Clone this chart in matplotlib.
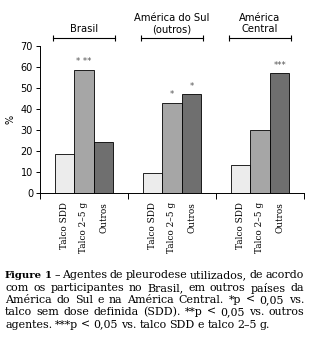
import matplotlib
matplotlib.use('Agg')
import matplotlib.pyplot as plt
import numpy as np

# data (% of participants)
groups = ['Brasil', 'América do Sul\n(outros)', 'América\nCentral']
agents = ['Talco SDD', 'Talco 2–5 g', 'Outros']
talco_sdd = [18.7, 9.5, 13.5]
talco_25 = [58.6, 42.9, 30.0]
outros = [24.3, 47.1, 57.1]
stars_25 = ['* **', '*', '']
stars_outros = ['', '*', '***']
colors = ['#ececec', '#a6a6a6', '#6f6f6f']

caption = [
    'Figure 1 – Agentes de pleurodese utilizados, de acordo',
    'com os participantes no Brasil, em outros países da',
    'América do Sul e na América Central. *p < 0,05 vs.',
    'talco sem dose definida (SDD). **p < 0,05 vs. outros',
    'agentes. ***p < 0,05 vs. talco SDD e talco 2–5 g.',
]

W, H = 322, 358
fig = plt.figure(figsize=(W / 100, H / 100), dpi=100)
ax = fig.add_axes([40 / W, 1 - 193.3 / H, 264 / W, 147 / H])

w = 0.223
centers = np.arange(len(groups)) + 0.5
series = [talco_sdd, talco_25, outros]
for i, vals in enumerate(series):
    ax.bar(centers + (i - 1) * w, vals, w, color=colors[i],
           edgecolor='black', linewidth=0.6)

for g in range(len(groups)):
    for i, marks in [(1, stars_25), (2, stars_outros)]:
        if marks[g]:
            ax.text(centers[g] + (i - 1) * w, series[i][g] + 1.8, marks[g],
                    ha='center', va='bottom', fontsize=6, color='#555555')
    # group header with bracket
    ax.plot([g + 0.15, g + 0.85], [74.1, 74.1], color='black', lw=0.8,
            clip_on=False)
    ax.plot([g + 0.15, g + 0.85], [74.1, 74.1], ls='none', marker='|',
            ms=5, mew=0.8, color='black', clip_on=False)
    ax.text(g + 0.5, 75.8, groups[g], ha='center', va='bottom',
            fontsize=7.2, linespacing=1.15, family='DejaVu Sans')

ax.set_xlim(0, 3)
ax.set_ylim(0, 70)
ax.set_yticks(range(0, 71, 10))
ax.tick_params(axis='y', labelsize=7, length=3, width=0.7, pad=2)
xt = [c + (i - 1) * w for c in centers for i in range(3)]
ax.set_xticks(xt)
ax.set_xticklabels(agents * 3, rotation=90, fontsize=6.4,
                   family='DejaVu Serif')
ax.tick_params(axis='x', which='major', length=0, pad=6)
ax.set_xticks([0, 1, 2, 3], minor=True)
ax.tick_params(axis='x', which='minor', length=4, width=0.7, direction='out')
ax.spines['top'].set_visible(False)
ax.spines['right'].set_visible(False)
ax.spines['left'].set_linewidth(0.7)
ax.spines['bottom'].set_linewidth(0.7)
ax.set_ylabel('%', fontsize=7, labelpad=4)

# justified caption
x0, x1 = 5, 304
ys = [275.5, 288, 300, 312, 324.5]
fig.canvas.draw()
r = fig.canvas.get_renderer()
for li, line in enumerate(caption):
    words = line.split(' ')
    texts = []
    for k, wd in enumerate(words):
        bold = li == 0 and k < 2
        t = fig.text(0, 1 - ys[li] / H, wd, fontsize=7.3 if bold else 7.9,
                     va='center', family='DejaVu Serif',
                     weight='bold' if bold else 'normal')
        texts.append(t)
    widths = [t.get_window_extent(r).width for t in texts]
    if li < len(caption) - 1:
        gap = (x1 - x0 - sum(widths)) / (len(words) - 1)
    else:
        gap = 3.0
    x = x0
    for t, wd in zip(texts, widths):
        t.set_x(x / W)
        x += wd + gap

fig.savefig('out.png', dpi=100)
